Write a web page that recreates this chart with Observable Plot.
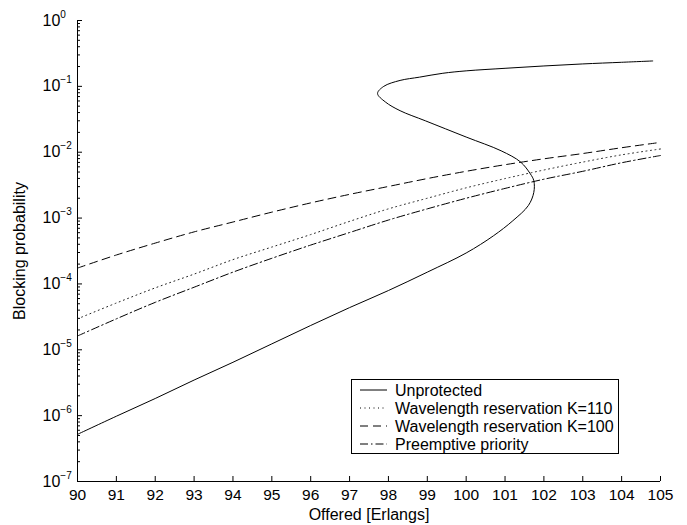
<!DOCTYPE html>
<html><head><meta charset="utf-8">
<script src="https://cdn.jsdelivr.net/npm/d3@7"></script>
<script src="https://cdn.jsdelivr.net/npm/@observablehq/plot@0.6"></script>
<style>
body{margin:0;background:#fff}
svg{font-family:"Liberation Sans",Arial,Helvetica,sans-serif}
</style>
</head><body><div id="chart"></div>
<script>
// ---- data ----
const offered = [90,91,92,93,94,95,96,97,98,99,100,101,102,103,104,105];

// Unprotected: S-shaped (multi-valued) curve, points in drawing order
const unprotectedX = [90,91,92,93,94,95,96,97,98,99,100,100.7,101.2,101.6,101.74,101.74,101.65,101.4,100.9,100.0,98.95,98.3,97.92,97.72,97.88,98.3,98.8,99.4,100,101,102,103,104,104.8];
const unprotectedP = [5.2e-7,9.8e-7,1.82e-6,3.47e-6,6.46e-6,1.23e-5,2.34e-5,4.37e-5,7.94e-5,1.51e-4,2.95e-4,5.37e-4,9.1e-4,1.55e-3,2.45e-3,3.7e-3,4.7e-3,7.1e-3,1.05e-2,1.7e-2,3.0e-2,4.27e-2,5.8e-2,7.8e-2,0.1,0.123,0.138,0.158,0.172,0.188,0.204,0.219,0.232,0.243];

const reservationK110 = [2.95e-5,5.13e-5,8.71e-5,1.41e-4,2.34e-4,3.63e-4,5.62e-4,8.91e-4,1.38e-3,2.0e-3,2.88e-3,3.98e-3,5.37e-3,7.08e-3,9.12e-3,1.12e-2];
const reservationK100 = [1.74e-4,2.75e-4,4.17e-4,6.17e-4,8.71e-4,1.23e-3,1.70e-3,2.29e-3,3.02e-3,3.98e-3,5.13e-3,6.46e-3,7.94e-3,9.55e-3,1.17e-2,1.41e-2];
const preemptive = [1.62e-5,2.95e-5,5.25e-5,8.91e-5,1.51e-4,2.45e-4,3.89e-4,6.03e-4,9.33e-4,1.38e-3,2.0e-3,2.82e-3,3.89e-3,5.13e-3,6.92e-3,8.91e-3];

const seriesNames = ["Unprotected","Wavelength reservation K=110","Wavelength reservation K=100","Preemptive priority"];
const xTicks = [90,91,92,93,94,95,96,97,98,99,100,101,102,103,104,105];
const yTicks = [1e-7,1e-6,1e-5,1e-4,1e-3,1e-2,1e-1,1];
const yTickBase = "10";
const yTickExponents = ["−7","−6","−5","−4","−3","−2","−1","0"];
const yMinor = [];
for (let e = -7; e < 0; e++) for (let m = 2; m <= 9; m++) yMinor.push(m * Math.pow(10, e));
const xLabel = "Offered [Erlangs]";
const yLabel = "Blocking probability";

// ---- styles ----
const dashes = [null, "1,3.5", "8,5", "8,3,1.5,3"];

const unprot = unprotectedX.map((x, i) => ({x, p: unprotectedP[i]}));
const mk = arr => offered.map((x, i) => ({x, p: arr[i]}));

const chart = Plot.plot({
  width: 687, height: 525,
  marginLeft: 77, marginRight: 27, marginTop: 20, marginBottom: 44,
  style: {fontFamily: '"Liberation Sans",Arial,Helvetica,sans-serif', fontSize: "15px", background: "white", color: "black", overflow: "visible"},
  x: {domain: [90, 105], label: null},
  y: {type: "log", domain: [1e-7, 1], label: null},
  marks: [
    Plot.ruleX([90], {stroke: "black", strokeWidth: 1}),
    Plot.ruleY([1e-7], {stroke: "black", strokeWidth: 1}),
    Plot.axisX(xTicks, {tickSize: -5, fill: "none", label: null}),
    Plot.axisX(xTicks, {tickSize: 0, tickPadding: 7, fontSize: 15.5, label: null, tickFormat: d => String(d)}),
    Plot.axisY(yTicks, {tickSize: -5, fill: "none", label: null}),
    Plot.axisY(yMinor, {tickSize: -3, fill: "none", label: null}),
    Plot.text(yTicks, {frameAnchor: "left", y: d => d, text: (d, i) => yTickBase + "^" + yTickExponents[i], textAnchor: "start", lineAnchor: "middle", dx: -35, fontSize: 16}),
    Plot.line(unprot, {x: "x", y: "p", stroke: "black", strokeWidth: 1, curve: "catmull-rom"}),
    Plot.line(mk(reservationK110), {x: "x", y: "p", stroke: "#222", strokeWidth: 1, strokeDasharray: dashes[1], curve: "catmull-rom"}),
    Plot.line(mk(reservationK100), {x: "x", y: "p", stroke: "black", strokeWidth: 1, strokeDasharray: dashes[2], curve: "catmull-rom"}),
    Plot.line(mk(preemptive), {x: "x", y: "p", stroke: "black", strokeWidth: 1, strokeDasharray: dashes[3], curve: "catmull-rom"}),
    Plot.text([xLabel], {frameAnchor: "bottom", text: d => d, textAnchor: "middle", lineAnchor: "middle", dy: 33, fontSize: 16}),
    Plot.text([yLabel], {frameAnchor: "left", text: d => d, rotate: -90, textAnchor: "middle", lineAnchor: "middle", dx: -58, fontSize: 16})
  ]
});

const svg = d3.select(chart);
svg.selectAll("text").each(function() {
  const s = this.textContent;
  if (!s.includes("^")) return;
  const [base, exp] = s.split("^");
  const t = d3.select(this);
  t.text(base);
  t.append("tspan").attr("dy", "-8").attr("font-size", 10).text(exp);
});

// legend box
const lg = svg.append("g").attr("font-size", 16).attr("text-anchor", "start");
lg.append("rect").attr("x", 351.5).attr("y", 379.5).attr("width", 267).attr("height", 74)
  .attr("fill", "white").attr("stroke", "black");
seriesNames.forEach((n, i) => {
  const y = 390 + i * 18;
  const l = lg.append("line").attr("x1", 360).attr("x2", 387).attr("y1", y).attr("y2", y).attr("stroke", "black");
  if (dashes[i]) l.attr("stroke-dasharray", dashes[i]);
  lg.append("text").attr("x", 395).attr("y", y + 5.5).attr("fill", "black").attr("text-anchor", "start").text(n);
});

document.getElementById("chart").appendChild(chart);
</script>
</body></html>
